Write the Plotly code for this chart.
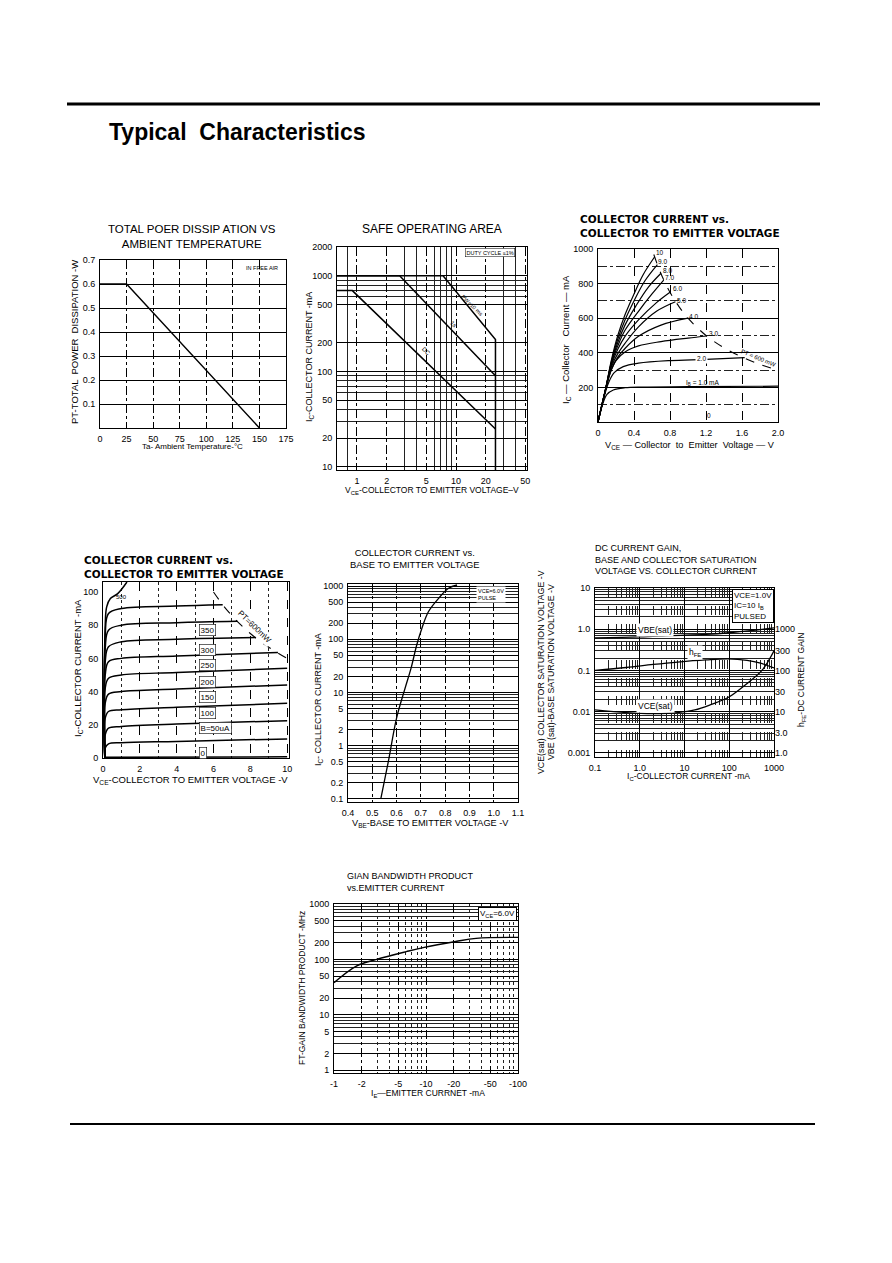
import math
import plotly.graph_objects as go

W, H = 892, 1263
FONT = "Liberation Sans"
WIDE = "DejaVu Sans"
PAGE_OFFSET = 8  # the page body margin shifts the figure by this many px

# ---------------- data ----------------
# 1) total power dissipation vs ambient temperature
ta_deg = [0, 25, 150]
pt_watt = [0.6, 0.6, 0.0]

# 2) safe operating area (V, mA)
soa_dc_v = [0.63, 0.9, 25]
soa_dc_i = [700, 700, 25]
soa_1s_v = [0.63, 2.7, 25]
soa_1s_i = [1000, 1000, 90]
soa_pw_v = [0.63, 7.4, 25, 25]
soa_pw_i = [1000, 1000, 216, 9]

# 3) collector current vs VCE (0..2 V), IB in mA
ib3_names = ["10", "9.0", "8.0", "7.0", "6.0", "5.0", "4.0", "3.0", "2.0", "1.0"]
ib3_v = [
    [0, 0.08, 0.15, 0.22, 0.3, 0.4, 0.5, 0.63],
    [0, 0.08, 0.15, 0.22, 0.3, 0.4, 0.52, 0.66],
    [0, 0.08, 0.15, 0.22, 0.3, 0.42, 0.56, 0.70],
    [0, 0.08, 0.15, 0.22, 0.3, 0.45, 0.6, 0.73],
    [0, 0.08, 0.15, 0.22, 0.3, 0.45, 0.65, 0.8],
    [0, 0.08, 0.15, 0.22, 0.3, 0.45, 0.65, 0.86],
    [0, 0.08, 0.15, 0.22, 0.3, 0.45, 0.7, 1.0],
    [0, 0.08, 0.14, 0.2, 0.3, 0.45, 0.7, 1.0, 1.21],
    [0, 0.07, 0.12, 0.18, 0.28, 0.45, 0.8, 1.2, 1.63],
    [0, 0.05, 0.1, 0.17, 0.3, 0.5, 1.0, 2.0],
]
ib3_i = [
    [0, 180, 360, 500, 620, 740, 850, 955],
    [0, 180, 350, 480, 590, 700, 815, 910],
    [0, 180, 345, 460, 560, 670, 780, 860],
    [0, 180, 340, 440, 530, 640, 740, 820],
    [0, 180, 330, 420, 495, 590, 690, 750],
    [0, 180, 320, 395, 455, 550, 640, 695],
    [0, 180, 305, 375, 425, 495, 560, 600],
    [0, 175, 290, 355, 405, 440, 465, 485, 497],
    [0, 150, 230, 285, 320, 340, 355, 362, 372],
    [0, 100, 160, 185, 198, 202, 204, 207],
]
ib3_lab_v = [0.69, 0.72, 0.77, 0.79, 0.88, 0.93, 1.06, 1.28, 1.15]
ib3_lab_i = [980, 928, 875, 833, 770, 702, 607, 510, 366]
pt3_v = [0.62, 0.7, 0.8, 0.9, 1.0, 1.2, 1.4, 1.6, 1.8, 2.0]
pt3_i = [968, 857, 750, 667, 600, 500, 429, 375, 333, 300]

# 4) collector current vs VCE (0..10 V), IB in uA
ib4_v = [
    [0.1, 10],
    [0.1, 0.12, 0.3, 1, 4, 10],
    [0.1, 0.12, 0.3, 1, 4, 10],
    [0.1, 0.12, 0.3, 1, 4, 10],
    [0.1, 0.12, 0.3, 1, 4, 10],
    [0.1, 0.12, 0.3, 1, 4, 10],
    [0.1, 0.12, 0.3, 1, 4, 9.5],
    [0.1, 0.12, 0.3, 1, 4, 8.3],
    [0.1, 0.12, 0.3, 1, 4, 7.3],
    [0.1, 0.12, 0.3, 1, 4, 6.5],
    [0.1, 0.12, 0.2, 0.4, 0.8, 1.3],
]
ib4_i = [
    [0.4, 0.7],
    [0, 6, 8.5, 9.2, 10, 11.5],
    [0, 14, 18, 19, 20.5, 22.5],
    [0, 24, 28, 29, 30.5, 33],
    [0, 33, 38.5, 40, 41.5, 44],
    [0, 42, 48, 50, 51.5, 54],
    [0, 50, 58, 60, 61.5, 63.5],
    [0, 58, 67, 70, 71.5, 72.5],
    [0, 66, 77, 80, 81.5, 82.3],
    [0, 74, 87, 90, 91.5, 92.3],
    [0, 80, 91, 96, 99, 106],
]
ib4_names = ["350", "300", "250", "200", "150", "100", "B=50uA", "0"]
ib4_lab_i = [77, 65, 56, 46, 37, 27, 18, 3]
pt4_v = [6.0, 6.5, 7.0, 7.5, 8.0, 8.5, 9.0, 9.5, 10.0]
pt4_i = [100, 92.3, 85.7, 80, 75, 70.6, 66.7, 63.2, 60]

# 5) collector current vs base-emitter voltage
vbe5 = [0.535, 0.566, 0.6, 0.635, 0.66, 0.683, 0.704, 0.731, 0.773, 0.814, 0.849]
ic5 = [0.1, 0.5, 3.3, 12, 29, 78, 160, 330, 590, 910, 1050]

# 6) hFE, VBE(sat), VCE(sat) vs IC
ic6_vbe = [0.1, 1, 5, 30, 100, 300, 1000]
vbe6 = [0.62, 0.65, 0.7, 0.75, 0.82, 0.92, 1.08]
ic6_vce = [0.1, 0.5, 2, 7, 17, 40, 94, 224, 537, 1000]
vce6 = [0.011, 0.0095, 0.009, 0.0095, 0.011, 0.015, 0.022, 0.044, 0.1, 0.3]
ic6_hfe = [0.1, 0.5, 2, 7, 30, 94, 250, 500, 1000]
hfe6 = [100, 118, 140, 160, 180, 190, 175, 150, 115]

# 7) gain bandwidth product vs emitter current
ie7 = [1, 1.75, 2.9, 6.1, 9.3, 21, 35, 100]
ft7 = [38, 76, 100, 138, 163, 210, 240, 250]


# ---------------- helpers ----------------
def px(p):
    return (p - PAGE_OFFSET) / W


def py(p):
    return 1 - (p - PAGE_OFFSET) / H


def lg(v):
    return math.log10(v)


def axis(dom, anchor, **kw):
    d = dict(domain=dom, anchor=anchor, showline=True, linecolor="black",
             linewidth=1, mirror=True, ticks="", zeroline=False, automargin=False,
             tickfont=dict(family=FONT, size=9, color="black"),
             showgrid=True, gridcolor="black", gridwidth=0.8,
             fixedrange=True, ticklabelstandoff=2)
    d.update(kw)
    return d


def minor(vals, dash="solid", width=0.6):
    return dict(tickvals=vals, showgrid=True, gridcolor="#222",
                gridwidth=width, griddash=dash, ticks="")


def curve(fig, x, y, n, width=1.3, dash="solid", shape="linear"):
    fig.add_trace(go.Scatter(
        x=x, y=y, xaxis="x" + n, yaxis="y" + n, mode="lines",
        line=dict(color="black", width=width, dash=dash, shape=shape),
        hoverinfo="skip", showlegend=False
    ))


notes = []


def note(text, x, y, size=9, angle=0, bold=False, xanchor="center", family=FONT, **kw):
    if bold:
        text = "<b>" + text + "</b>"
    notes.append(dict(text=text, x=px(x), y=py(y), xref="paper", yref="paper",
                      showarrow=False, textangle=angle, xanchor=xanchor,
                      yanchor="middle",
                      font=dict(family=family, size=size, color="black"), **kw))


def dnote(text, x, y, n, size=7, angle=0, xanchor="center", bg=None, **kw):
    d = dict(text=text, x=x, y=y, xref="x" + n, yref="y" + n, showarrow=False,
             textangle=angle, xanchor=xanchor, yanchor="middle",
             font=dict(family=FONT, size=size, color="black"), **kw)
    if bg:
        d["bgcolor"] = bg
    notes.append(d)


fig = go.Figure()

# ---------------- traces ----------------
curve(fig, ta_deg, pt_watt, "", width=1.4)

curve(fig, soa_dc_v, soa_dc_i, "2", width=1.5)
curve(fig, soa_1s_v, soa_1s_i, "2", width=1.5)
curve(fig, soa_pw_v, soa_pw_i, "2", width=1.5)

for v, i in zip(ib3_v, ib3_i):
    curve(fig, v, i, "3", width=1.2, shape="spline")
curve(fig, pt3_v, pt3_i, "3", width=1.1, dash="dash", shape="spline")

for v, i in zip(ib4_v, ib4_i):
    curve(fig, v, i, "4", width=1.5, shape="spline")
curve(fig, pt4_v, pt4_i, "4", width=1.1, dash="dash", shape="spline")

curve(fig, vbe5, ic5, "5", width=1.3, shape="spline")

curve(fig, ic6_vbe, vbe6, "6", width=1.3, shape="spline")
curve(fig, ic6_vce, vce6, "6", width=1.3, shape="spline")
fig.add_trace(go.Scatter(
    x=ic6_hfe, y=hfe6, xaxis="x6", yaxis="y8", mode="lines",
    line=dict(color="black", width=1.3, shape="spline"),
    hoverinfo="skip", showlegend=False
))

curve(fig, ie7, ft7, "7", width=1.4, shape="spline")

# ---------------- axes ----------------
dec = [2, 3, 4, 5, 6, 7, 8, 9]
log_minor_23 = [v * m for m in [0.1, 1, 10, 100] for v in [3, 4, 6, 7, 8, 9]]

lay = dict(
    # chart 1
    xaxis=axis([px(100), px(286)], "y", range=[0, 175],
               tickvals=[0, 25, 50, 75, 100, 125, 150, 175], griddash="dashdot"),
    yaxis=axis([py(428), py(260)], "x", range=[0, 0.7],
               tickvals=[0.1, 0.2, 0.3, 0.4, 0.5, 0.6, 0.7],
               ticktext=["0.1", "0.2", "0.3", "0.4", "0.5", "0.6", "0.7"]),
    # chart 2
    xaxis2=axis([px(337), px(527)], "y2", type="log", range=[lg(0.63), lg(52)],
                tickvals=[1, 2, 5, 10, 20, 50], ticktext=["1", "2", "5", "10", "20", "50"],
                griddash="dashdot", minor=minor([0.8, 3, 4, 6, 7, 8, 9, 30, 40])),
    yaxis2=axis([py(470), py(247)], "x2", type="log", range=[lg(9.3), lg(2000)],
                tickvals=[10, 20, 50, 100, 200, 500, 1000, 2000],
                ticktext=["10", "20", "50", "100", "200", "500", "1000", "2000"],
                minor=minor([30, 40, 60, 70, 80, 90, 600, 700, 800, 900], width=0.8)),
    # chart 3
    xaxis3=axis([px(598), px(778)], "y3", range=[0, 2.0],
                tickvals=[0, 0.4, 0.8, 1.2, 1.6, 2.0],
                ticktext=["0", "0.4", "0.8", "1.2", "1.6", "2.0"], griddash="dash"),
    yaxis3=axis([py(422), py(249)], "x3", range=[0, 1000],
                tickvals=[200, 400, 600, 800, 1000],
                minor=minor([100, 300, 500, 700, 900], dash="dashdot")),
    # chart 4
    xaxis4=axis([px(103), px(289)], "y4", range=[0, 10.1],
                tickvals=[0, 2, 4, 6, 8, 10], griddash="dash",
                minor=minor([1, 3, 5, 7, 9], dash="dot")),
    yaxis4=axis([py(758), py(582)], "x4", range=[0, 106],
                tickvals=[0, 20, 40, 60, 80, 100], showgrid=False),
    # chart 5
    xaxis5=axis([px(348), px(518)], "y5", range=[0.4, 1.1],
                tickvals=[0.4, 0.5, 0.6, 0.7, 0.8, 0.9, 1.0, 1.1],
                ticktext=["0.4", "0.5", "0.6", "0.7", "0.8", "0.9", "1.0", "1.1"],
                griddash="dashdot"),
    yaxis5=axis([py(802), py(584)], "x5", type="log", range=[-1.06, 3.04],
                tickvals=[0.1, 0.2, 0.5, 1, 2, 5, 10, 20, 50, 100, 200, 500, 1000],
                ticktext=["0.1", "0.2", "0.5", "1", "2", "5", "10", "20", "50",
                          "100", "200", "500", "1000"],
                minor=minor(log_minor_23, width=0.7)),
    # chart 6
    xaxis6=axis([px(595), px(774)], "y6", type="log", range=[-1, 3],
                tickvals=[0.1, 1, 10, 100, 1000],
                ticktext=["0.1", "1.0", "10", "100", "1000"],
                minor=minor([v * m for m in [0.1, 1, 10, 100] for v in dec], dash="dash")),
    yaxis6=axis([py(757), py(588)], "x6", type="log", range=[-3.1, 1.0],
                tickvals=[0.001, 0.01, 0.1, 1, 10],
                ticktext=["0.001", "0.01", "0.1", "1.0", "10"],
                minor=minor([v * m for m in [0.001, 0.01, 0.1, 1] for v in dec], width=0.6)),
    yaxis8=dict(overlaying="y6", anchor="x6", side="right", type="log",
                range=[-0.1, 4.0], showgrid=False, showline=False, ticks="",
                zeroline=False, fixedrange=True, automargin=False,
                tickvals=[1, 3, 10, 30, 100, 300, 1000],
                ticktext=["1.0", "3.0", "10", "30", "100", "300", "1000"],
                tickfont=dict(family=FONT, size=9, color="black")),
    # chart 7
    xaxis7=axis([px(334), px(518)], "y7", type="log", range=[0, 2],
                tickvals=[1, 2, 5, 10, 20, 50, 100],
                ticktext=["-1", "-2", "-5", "-10", "-20", "-50", "-100"],
                griddash="dashdot", minor=minor([3, 4, 6, 7, 8, 9, 30, 40, 60, 70, 80, 90], dash="dot")),
    yaxis7=axis([py(1073), py(904)], "x7", type="log", range=[-0.05, 3.0],
                tickvals=[1, 2, 5, 10, 20, 50, 100, 200, 500, 1000],
                ticktext=["1", "2", "5", "10", "20", "50", "100", "200", "500", "1000"],
                minor=minor([3, 4, 6, 7, 8, 9, 30, 40, 60, 70, 80, 90, 300, 400, 600, 700, 800, 900],
                            width=0.7)),
)

# ---------------- texts ----------------
note("Typical  Characteristics", 107, 132, size=23, bold=True, xanchor="left")

# chart 1
note("TOTAL POER DISSIP ATION VS<br>AMBIENT TEMPERATURE", 192, 237, size=11.5)
note("PT-TOTAL  POWER  DISSIPATION -W", 75, 342, size=9.5, angle=-90)
note("Ta- Ambient Temperature-°C", 192, 447, size=8)
dnote("IN FREE AIR", 152, 0.665, "", size=5.5)

# chart 2
note("SAFE OPERATING AREA", 432, 229, size=12)
note("I<sub>C</sub>-COLLECTOR CURRENT -mA", 310, 357, size=9, angle=-90)
note("V<sub>CE</sub>-COLLECTOR TO EMITTER VOLTAGE–V", 432, 491, size=8.5)
dnote("DUTY CYCLE ≤1%", lg(22), lg(1750), "2", size=5.5,
      bordercolor="black", borderwidth=0.5, borderpad=1, bg="white")
dnote("DC", lg(5.0), lg(165), "2", size=6, angle=44)
dnote("1s", lg(9.3), lg(310), "2", size=6, angle=44)
dnote("PW=10 ms", lg(14.5), lg(500), "2", size=5.5, angle=44)

# chart 3
note("COLLECTOR CURRENT vs.<br>COLLECTOR TO EMITTER VOLTAGE", 578, 226, size=10.5,
     bold=True, xanchor="left", align="left", family=WIDE)
note("I<sub>C</sub> — Collector   Current — mA", 566, 340, size=9.5, angle=-90)
note("V<sub>CE</sub> — Collector  to  Emitter  Voltage — V", 690, 445, size=9.2)
for name, v, i in zip(ib3_names, ib3_lab_v, ib3_lab_i):
    dnote(name, v, i, "3", size=6.5, bg="white" if name == "2.0" else None)
dnote("I<sub>B</sub> = 1.0 mA", 1.17, 228, "3", size=6.5)
dnote("0", 1.23, 36, "3", size=6.5)
dnote("PT = 600 mW", 1.78, 372, "3", size=6, angle=22)

# chart 4
note("COLLECTOR CURRENT vs.<br>COLLECTOR TO EMITTER VOLTAGE", 82, 567, size=10.5,
     bold=True, xanchor="left", align="left", family=WIDE)
note("I<sub>C</sub>-COLLECTOR CURRENT -mA", 78, 668, size=9.5, angle=-90)
note("V<sub>CE</sub>-COLLECTOR TO EMITTER VOLTAGE -V", 190, 780, size=9.5)
for name, i in zip(ib4_names, ib4_lab_i):
    dnote(name, 5.2, i, "4", size=8, xanchor="left", bg="white",
          bordercolor="black", borderwidth=0.6, borderpad=1)
dnote("500", 1.0, 97, "4", size=6)
dnote("PT=600mW", 8.2, 79, "4", size=8, angle=44, bg="white")

# chart 5
note("COLLECTOR CURRENT vs.<br>BASE TO EMITTER VOLTAGE", 415, 558, size=9.4)
note("I<sub>C</sub>- COLLECTOR CURRENT -mA", 318, 700, size=9, angle=-90)
note("V<sub>BE</sub>-BASE TO EMITTER VOLTAGE -V", 430, 823, size=9.2)
dnote("VCE=6.0V<br>PULSE", 0.925, lg(700), "5", size=5.5, xanchor="left",
      bg="white", align="left")

# chart 6
note("DC CURRENT GAIN,<br>BASE AND COLLECTOR SATURATION<br>VOLTAGE VS. COLLECTOR CURRENT",
     593, 559, size=9, xanchor="left", align="left")
note("VCE(sat) COLLECTOR SATURATION VOLTAGE -V", 541, 672, size=8.8, angle=-90)
note("VBE (sat)-BASE SATURATION VOLTAGE -V", 551, 672, size=8.8, angle=-90)
note("h<sub>FE</sub>-DC CURRENT GAIN", 801, 680, size=8.5, angle=-90)
note("I<sub>C</sub>-COLLECTOR CURRENT -mA", 688, 776, size=8.5)
dnote("VBE(sat)", lg(2.2), lg(0.95), "6", size=8.5, bg="white")
dnote("h<sub>FE</sub>", lg(17), lg(0.27), "6", size=8.5, bg="white")
dnote("VCE(sat)", lg(2.2), lg(0.0135), "6", size=8.5, bg="white")
notes.append(dict(text="VCE=1.0V<br>IC=10 I<sub>B</sub><br>PULSED", x=lg(115), y=lg(9.5),
                  xref="x6", yref="y6", showarrow=False, xanchor="left", yanchor="top",
                  align="left", bgcolor="white", bordercolor="black", borderwidth=1,
                  borderpad=1, font=dict(family=FONT, size=8, color="black")))

# chart 7
note("GIAN BANDWIDTH PRODUCT<br>vs.EMITTER CURRENT", 345, 882, size=9,
     xanchor="left", align="left")
note("FT-GAIN BANDWIDTH PRODUCT -MHz", 302, 988, size=8.5, angle=-90)
note("I<sub>E</sub>—EMITTER CURRNET -mA", 428, 1093, size=8.5)
notes.append(dict(text="V<sub>CE</sub>=6.0V", x=lg(98), y=lg(900), xref="x7", yref="y7",
                  showarrow=False, xanchor="right", yanchor="top", bgcolor="white",
                  bordercolor="black", borderwidth=1, borderpad=1,
                  font=dict(family=FONT, size=8, color="black")))

# page rules
shapes = [
    dict(type="line", xref="paper", yref="paper", x0=px(67), x1=px(820),
         y0=py(104), y1=py(104), line=dict(color="black", width=3)),
    dict(type="line", xref="paper", yref="paper", x0=px(70), x1=px(815),
         y0=py(1124), y1=py(1124), line=dict(color="black", width=2)),
]

fig.update_layout(
    template="none",
    width=W, height=H,
    margin=dict(l=0, r=0, t=0, b=0, autoexpand=False),
    paper_bgcolor="white", plot_bgcolor="white",
    showlegend=False,
    font=dict(family=FONT, color="black"),
    annotations=notes, shapes=shapes,
    **lay
)

fig.write_html("out.html", config={"displayModeBar": False})
